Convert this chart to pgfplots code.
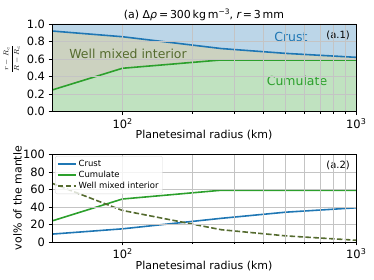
\documentclass[border=0pt]{standalone}
\usepackage{fontspec}
\setmainfont{DejaVu Sans}
\usepackage{pgfplots}
\usepackage{pgfplotstable}
\pgfplotsset{compat=1.18}
\definecolor{cblue}{HTML}{1F77B4}
\definecolor{cgreen}{HTML}{2CA02C}
\definecolor{colive}{HTML}{556B2F}
\definecolor{fblue}{HTML}{BCD6E8}
\definecolor{fgreen}{HTML}{C0E2C0}
\definecolor{folive}{HTML}{CCD2C0}
\definecolor{gridc}{HTML}{C4C4C4}

% top panel: normalised radius of boundaries
\pgfplotstableread{
x crust cum
50 0.92 0.247
100 0.855 0.495
265 0.72 0.59
500 0.665 0.59
1000 0.62 0.59
}\toptab
% polygons for fills
\pgfplotstableread{
x y
50 0.92
100 0.855
265 0.72
500 0.665
1000 0.62
1000 1
50 1
}\crustpoly
\pgfplotstableread{
x y
50 0.92
100 0.855
265 0.72
500 0.665
1000 0.62
1000 0.59
500 0.59
265 0.59
100 0.495
50 0.247
}\mixpoly
\pgfplotstableread{
x y
50 0
50 0.247
100 0.495
265 0.59
500 0.59
1000 0.59
1000 0
}\cumpoly
% bottom panel: vol% of the mantle
\pgfplotstableread{
x crust cum mix
50 9 24 67
100 15 49 36
265 27 59 14
500 34 59 7
1000 39 59 2
}\bottab

\pgfplotsset{
  every axis/.append style={
    xmode=log, xmin=50, xmax=1000,
    scale only axis, width=304bp, height=87.7bp,
    xmajorgrids, xminorgrids, ymajorgrids,
    major grid style={color=gridc, line width=0.6pt},
    minor grid style={color=gridc, line width=0.6pt},
    tick align=outside, tick pos=left,
    major tick length=3.5pt, minor tick length=2pt,
    tick style={black, line width=0.6pt},
    axis line style={line width=0.7pt},
    xtick={100,1000},
    xticklabels={10\raisebox{0.6ex}{\fontsize{8}{9}\selectfont 2},10\raisebox{0.6ex}{\fontsize{8}{9}\selectfont 3}},
    ticklabel style={font=\fontsize{11.5}{13}\selectfont},
    /pgf/number format/assume math mode=true,
    axis on top,
  }
}

\begin{document}
\begin{tikzpicture}
\useasboundingbox (0,0) rectangle (374bp,280bp);

\begin{axis}[at={(52bp,168.3bp)}, anchor=south west,
  ymin=0, ymax=1, ytick={0,0.2,0.4,0.6,0.8,1.0},
  yticklabel style={/pgf/number format/fixed, /pgf/number format/fixed zerofill, /pgf/number format/precision=1},
  ]
  \addplot[draw=none, fill=fblue] table {\crustpoly};
  \addplot[draw=none, fill=folive] table {\mixpoly};
  \addplot[draw=none, fill=fgreen] table {\cumpoly};
  \addplot[cblue, line width=1.6pt] table[x=x, y=crust] {\toptab};
  \addplot[cgreen, line width=1.6pt] table[x=x, y=cum] {\toptab};
  \node[text=cblue, font=\fontsize{12.5}{14}\selectfont] at (rel axis cs:0.786,0.855) {Crust};
  \node[text=colive, font=\fontsize{12.5}{14}\selectfont] at (rel axis cs:0.25,0.658) {Well mixed interior};
  \node[text=cgreen, font=\fontsize{12.5}{14}\selectfont] at (rel axis cs:0.806,0.353) {Cumulate};
  \node[font=\fontsize{10}{12}\selectfont] at (rel axis cs:0.941,0.867) {(a.1)};
\end{axis}

\begin{axis}[at={(52bp,38bp)}, anchor=south west,
  ymin=0, ymax=100, ytick={0,20,40,60,80,100},
  legend cell align=left,
  legend style={at={(rel axis cs:0.01,0.98)}, anchor=north west,
    font=\fontsize{8.5}{10}\selectfont, draw=gray!30, rounded corners=2pt,
    fill=white, fill opacity=0.8, text opacity=1, row sep=-1pt,
    inner sep=2pt},
  legend image code/.code={\draw[#1, line width=1.4pt] (0bp,0bp) -- (18bp,0bp);},
  ]
  \addplot[cblue, line width=1.6pt] table[x=x, y=crust] {\bottab};
  \addlegendentry{Crust}
  \addplot[cgreen, line width=1.6pt] table[x=x, y=cum] {\bottab};
  \addlegendentry{Cumulate}
  \addplot[colive, line width=1.6pt, dash pattern=on 5.5bp off 2.4bp] table[x=x, y=mix] {\bottab};
  \addlegendentry{Well mixed interior}
  \node[font=\fontsize{10}{12}\selectfont] at (rel axis cs:0.941,0.875) {(a.2)};
\end{axis}

% titles and labels
\node[anchor=base, font=\fontsize{11}{13}\selectfont] at (204bp,261.7bp)
  {(a) Δ{\itshape ρ}\,=\,300\,kg\,m\raisebox{0.6ex}{\fontsize{7.5}{8}\selectfont −3}, {\itshape r}\,=\,3\,mm};
\node[anchor=base, font=\fontsize{11}{13}\selectfont] at (204bp,141.3bp) {Planetesimal radius (km)};
\node[anchor=base, font=\fontsize{11}{13}\selectfont] at (204bp,11bp) {Planetesimal radius (km)};
\node[rotate=90, anchor=base, font=\fontsize{11}{13}\selectfont] at (21.5bp,82bp) {vol\% of the mantle};
\node[rotate=90, font=\fontsize{7.5}{9}\selectfont, inner sep=0pt] at (11.7bp,221bp) {$\displaystyle\frac{r-R_c}{R-R_c}$};
\end{tikzpicture}
\end{document}
